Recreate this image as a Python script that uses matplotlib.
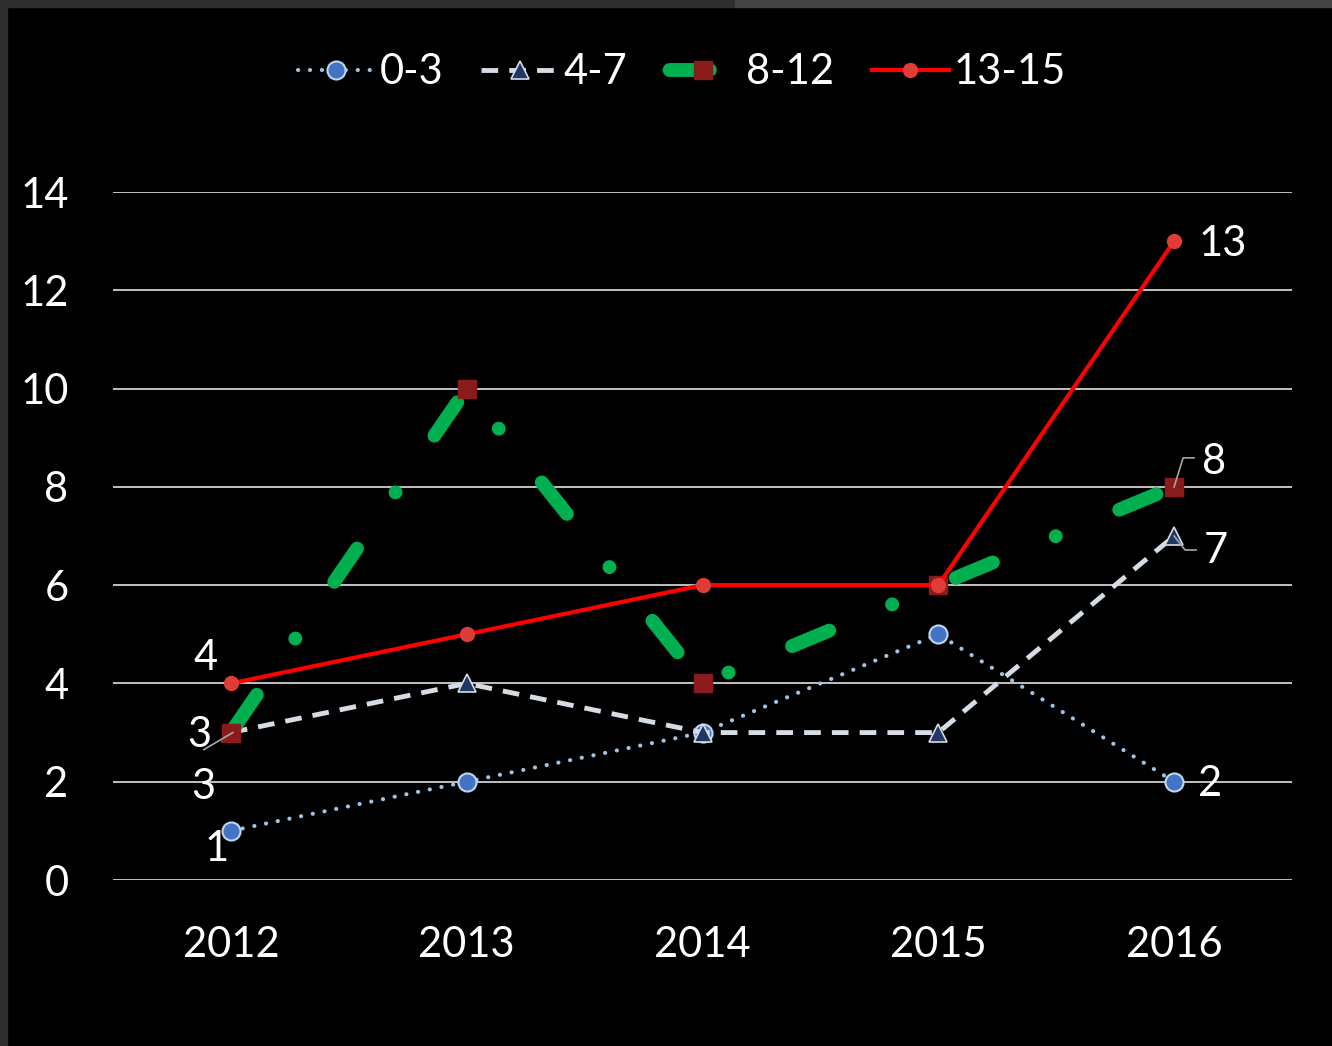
import matplotlib
matplotlib.use('Agg')
import matplotlib.pyplot as plt
from matplotlib.patches import Rectangle

# values
years = ['2012', '2013', '2014', '2015', '2016']
age_0_3 = [1, 2, 3, 5, 2]
age_4_7 = [3, 4, 3, 3, 7]
age_8_12 = [3, 10, 4, 6, 8]
age_13_15 = [4, 5, 6, 6, 13]
series_names = ['0-3', '4-7', '8-12', '13-15']
yticks = [0, 2, 4, 6, 8, 10, 12, 14]

plt.rcParams['font.family'] = ['Lato', 'DejaVu Sans']
plt.rcParams['lines.scale_dashes'] = False
FS = 30

fig = plt.figure(figsize=(13.32, 10.46), dpi=100, facecolor='black')
# dark frame on top and left edge
fig.patches.append(Rectangle((0, 1 - 7 / 1046), 735 / 1332, 7 / 1046, transform=fig.transFigure,
                             color='#2e2e2e', zorder=0))
fig.patches.append(Rectangle((735 / 1332, 1 - 7 / 1046), 1, 7 / 1046, transform=fig.transFigure,
                             color='#444444', zorder=0))
fig.patches.append(Rectangle((0, 0), 7 / 1332, 1, transform=fig.transFigure,
                             color='#2e2e2e', zorder=0))

ax = fig.add_axes([113 / 1332, 166 / 1046, 1179 / 1332, 688 / 1046])
ax.set_facecolor('black')
x = list(range(len(years)))

ax.plot(x, age_0_3, color='#9dc3e6', lw=3, linestyle=(0, (0.1, 8.5)), dash_capstyle='round',
        marker='o', ms=13, mfc='#4472c4', mec='#bdd7ee', mew=1.5,
        label=series_names[0], clip_on=False, zorder=3)
ax.plot(x, age_4_7, color='#d6dce5', lw=3.5, linestyle=(0, (12, 8)),
        marker='^', ms=13, mfc='#203864', mec='#d6dce5', mew=1.2,
        label=series_names[1], clip_on=False, zorder=4)
ax.plot(x, age_8_12, color='#00b050', lw=10, linestyle=(-4, (29, 49, 0.1, 49.5)),
        dash_capstyle='round', marker='s', ms=13, mfc='#8b1a1a', mec='#8b1a1a',
        label=series_names[2], clip_on=False, zorder=5)
ax.plot(x, age_13_15, color='#ff0000', lw=3, marker='o', ms=10,
        mfc='#e03c36', mec='#e03c36', label=series_names[3], clip_on=False, zorder=6)

ax.set_xlim(-0.5, 4.5)
ax.set_ylim(0, 14)
ax.set_yticks(yticks)
ax.set_xticks(x)
ax.set_xticklabels(years)
ax.tick_params(length=0, labelsize=FS, colors='white')
ax.tick_params(axis='y', pad=32)
ax.tick_params(axis='x', pad=33)
ax.grid(axis='y', color='#d0d0d0', lw=1.3)
ax.set_axisbelow(True)
for s in ax.spines.values():
    s.set_visible(False)

# data labels (offsets in points)
def lab(xi, yi, txt, dx, dy):
    ax.annotate(txt, (xi, yi), xytext=(dx, dy), textcoords='offset points',
                ha='center', va='center', color='white', fontsize=FS, zorder=8,
                annotation_clip=False)

lab(0, age_13_15[0], '4', -18, 18)
lab(0, age_8_12[0], '3', -23, -2)
lab(0, age_4_7[0], '3', -20, -39)
lab(0, age_0_3[0], '1', -10, -13)
lab(4, age_13_15[4], '13', 35, -2)
lab(4, age_8_12[4], '8', 29, 18)
lab(4, age_4_7[4], '7', 30, -11)
lab(4, age_0_3[4], '2', 26, -2)

# leader lines (pixel offsets from the data point)
def leader(xi, yi, path):
    px, py = ax.transData.transform((xi, yi))
    xs = [(px + a) / 1332 for a, b in path]
    ys = [(py + b) / 1046 for a, b in path]
    fig.lines.append(plt.Line2D(xs, ys, transform=fig.transFigure,
                                color='#a6a6a6', lw=1.2, zorder=7))

leader(0, age_8_12[0], [(2, 0), (-27, -17)])
leader(4, age_8_12[4], [(0, 0), (9, 29), (20, 29)])
leader(4, age_4_7[4], [(0, 0), (11, -14), (22, -14)])

leg = ax.legend(loc='center', bbox_to_anchor=(0.512, 0.931), bbox_transform=fig.transFigure,
                ncol=4, frameon=False, fontsize=FS, handlelength=1.85, handletextpad=0.12,
                columnspacing=0.9, labelcolor='white')

fig.savefig('out.png', dpi=100, facecolor='black')
